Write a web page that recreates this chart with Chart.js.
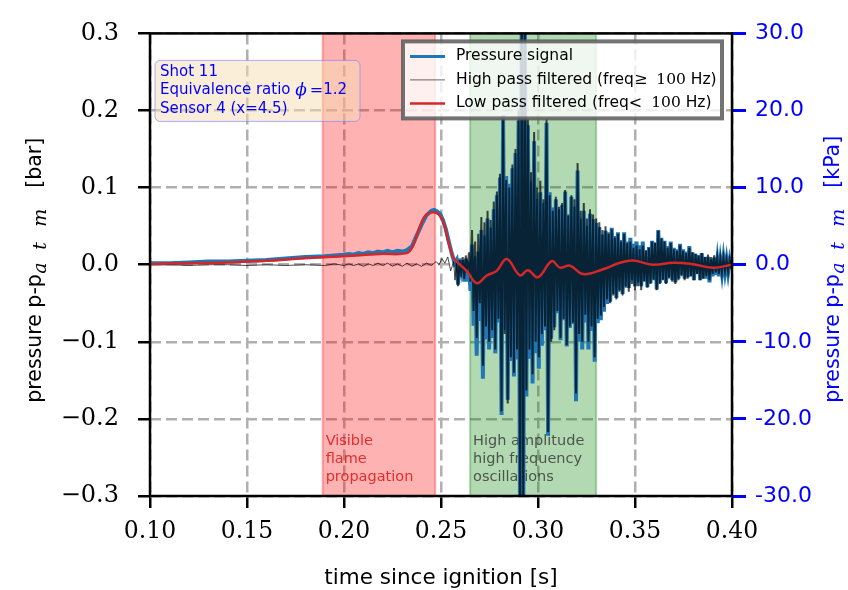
<!DOCTYPE html>
<html lang="en">
<head>
<meta charset="utf-8" />
<title>Pressure signal</title>
<script src="https://cdn.jsdelivr.net/npm/chart.js@4.4.1/dist/chart.umd.min.js"></script>
<style>
  html, body { margin: 0; padding: 0; background: #fff; }
  #wrap { width: 848px; height: 590px; }
</style>
</head>
<body>
<div id="wrap"><canvas id="myChart" width="848" height="590"></canvas></div>

<script>
// ---- data ----
// low pass filtered signal (bar)
var lowTime = [0.100, 0.120, 0.140, 0.160, 0.1773, 0.200, 0.2186, 0.2323, 0.2357, 0.2392, 0.2426, 0.2478,
  0.2512, 0.2538, 0.2564, 0.2598, 0.2632, 0.2684, 0.2736, 0.2787, 0.2839, 0.2907, 0.2948, 0.3000,
  0.3071, 0.3113, 0.3165, 0.3232, 0.3335, 0.3423, 0.3490, 0.3593, 0.3696, 0.3784, 0.3902, 0.4000];
var lowValue = [0.001, 0.002, 0.003, 0.005, 0.008, 0.011, 0.014, 0.015, 0.025, 0.050, 0.065, 0.067,
  0.055, 0.030, 0.009, 0.000, -0.008, -0.024, -0.014, -0.008, 0.0075, -0.0138, -0.0072, -0.0163,
  0.0046, -0.0038, -0.0013, -0.0122, -0.0059, 0.0025, 0.0054, 0.0000, 0.0025, 0.0013, -0.0038, 0.0000];

// raw pressure signal before the oscillations (bar)
var rawTime = [0.100, 0.110, 0.120, 0.130, 0.140, 0.150, 0.160, 0.170, 0.180, 0.190, 0.195, 0.200,
  0.2025, 0.205, 0.2075, 0.210, 0.2125, 0.215, 0.2175, 0.220, 0.2225, 0.225, 0.2275, 0.230, 0.2325,
  0.235, 0.2375, 0.240, 0.2425, 0.245, 0.2465, 0.248, 0.2495, 0.251, 0.2525, 0.254, 0.2555, 0.257];
var rawValue = [0.002, 0.002, 0.003, 0.004, 0.004, 0.005, 0.006, 0.008, 0.010, 0.011, 0.012, 0.013,
  0.014, 0.013, 0.015, 0.014, 0.016, 0.015, 0.017, 0.016, 0.018, 0.016, 0.018, 0.017, 0.019,
  0.024, 0.038, 0.052, 0.064, 0.070, 0.071, 0.069, 0.066, 0.058, 0.046, 0.030, 0.015, 0.002];

// high pass filtered signal before the oscillations (bar)
var highTime = [0.100, 0.110, 0.120, 0.130, 0.140, 0.150, 0.160, 0.170, 0.180, 0.190, 0.195, 0.200,
  0.2025, 0.205, 0.2075, 0.210, 0.2125, 0.215, 0.2175, 0.220, 0.2225, 0.225, 0.2275, 0.230, 0.2325,
  0.235, 0.2375, 0.240, 0.2425, 0.245, 0.2475, 0.249, 0.2505, 0.252, 0.2535, 0.255, 0.2565, 0.2572];
var highValue = [0.000, 0.000, -0.001, 0.000, 0.000, -0.001, 0.000, -0.001, 0.000, -0.001, 0.001, -0.001,
  0.001, -0.001, 0.001, -0.002, 0.001, -0.001, 0.002, -0.001, 0.002, -0.002, 0.001, -0.002, 0.002,
  -0.002, 0.001, -0.002, 0.002, -0.001, 0.004, 0.000, 0.008, 0.002, 0.010, -0.008, 0.004, -0.020];

// oscillation part, sampled every 0.8 ms from 0.258 s
var oscStart = 0.258;
var oscStep = 0.0008;
var oscHigh = [
  0.004, -0.028, 0.006, -0.012, 0.010, -0.018, 0.012, -0.010, 0.016, -0.022,
  0.045, -0.060, 0.030, -0.095, 0.040, -0.050, 0.062, -0.131, 0.055, -0.080,
  0.070, -0.100, 0.058, -0.085, 0.082, -0.110, 0.095, -0.070, 0.118, -0.190,
  0.189, -0.090, 0.110, -0.180, 0.100, -0.120, 0.130, -0.140, 0.150, -0.110,
  0.200, -0.360, 0.360, -0.340, 0.340, -0.163, 0.189, -0.110, 0.120, -0.142,
  0.172, -0.100, 0.100, -0.120, 0.109, -0.090, 0.085, -0.080, 0.189, -0.217,
  0.090, -0.100, 0.070, -0.085, 0.088, -0.060, 0.075, -0.095, 0.080, -0.070,
  0.097, -0.104, 0.065, -0.080, 0.090, -0.075, 0.085, -0.167, 0.132, -0.090,
  0.070, -0.100, 0.080, -0.065, 0.060, -0.100, 0.072, -0.080, 0.065, -0.120,
  0.060, -0.070, 0.055, -0.066, 0.045, -0.055, 0.050, -0.045, 0.040, -0.050,
  0.046, -0.040, 0.035, -0.045, 0.040, -0.035, 0.030, -0.040, 0.040, -0.030,
  0.028, -0.035, 0.030, -0.025, 0.022, -0.033, 0.025, -0.028, 0.020, -0.033,
  0.025, -0.022, 0.018, -0.030, 0.022, -0.025, 0.030, -0.020, 0.028, -0.033,
  0.044, -0.025, 0.034, -0.020, 0.030, -0.025, 0.022, -0.018, 0.028, -0.022,
  0.020, -0.025, 0.018, -0.020, 0.025, -0.015, 0.018, -0.020, 0.015, -0.018,
  0.022, -0.015, 0.016, -0.020, 0.014, -0.012, 0.012, -0.020, 0.015, -0.018,
  0.010, -0.015, 0.013, -0.020, 0.010, -0.012, 0.012, -0.010, 0.009, -0.012,
  0.008, -0.010, 0.009, -0.008, 0.007, -0.009, 0.006, -0.005];
var oscRaw = [
  0.006, -0.026, 0.008, -0.016, 0.006, -0.022, 0.008, -0.022, 0.004, -0.034,
  0.026, -0.079, 0.011, -0.118, 0.017, -0.073, 0.045, -0.148, 0.038, -0.097,
  0.060, -0.110, 0.048, -0.095, 0.072, -0.115, 0.090, -0.075, 0.113, -0.195,
  0.194, -0.085, 0.115, -0.175, 0.105, -0.125, 0.125, -0.145, 0.145, -0.123,
  0.187, -0.373, 0.347, -0.348, 0.332, -0.171, 0.181, -0.122, 0.108, -0.154,
  0.160, -0.115, 0.085, -0.135, 0.094, -0.105, 0.080, -0.085, 0.184, -0.222,
  0.094, -0.096, 0.074, -0.081, 0.085, -0.063, 0.072, -0.098, 0.077, -0.072,
  0.095, -0.106, 0.063, -0.082, 0.088, -0.077, 0.075, -0.177, 0.122, -0.100,
  0.060, -0.110, 0.070, -0.075, 0.050, -0.110, 0.066, -0.086, 0.059, -0.126,
  0.054, -0.076, 0.049, -0.072, 0.039, -0.061, 0.044, -0.051, 0.042, -0.048,
  0.048, -0.038, 0.037, -0.043, 0.042, -0.033, 0.032, -0.038, 0.042, -0.028,
  0.030, -0.030, 0.035, -0.020, 0.027, -0.028, 0.030, -0.023, 0.025, -0.028,
  0.030, -0.021, 0.019, -0.029, 0.023, -0.024, 0.031, -0.019, 0.029, -0.032,
  0.045, -0.024, 0.035, -0.019, 0.031, -0.024, 0.024, -0.016, 0.030, -0.020,
  0.022, -0.023, 0.020, -0.018, 0.027, -0.013, 0.020, -0.018, 0.017, -0.016,
  0.024, -0.015, 0.016, -0.020, 0.014, -0.012, 0.012, -0.020, 0.015, -0.018,
  0.010, -0.018, 0.010, -0.023, 0.007, -0.015, 0.009, -0.013, 0.006, -0.015,
  0.005, -0.011, 0.008, -0.009, 0.006, -0.010, 0.005, -0.006];

// shaded time windows
var bandStart = [0.189, 0.265];
var bandEnd = [0.247, 0.330];
var bandText = [["Visible", "flame", "propagation"], ["High amplitude", "high frequency", "oscillations"]];

// ticks
var xTicks = [0.10, 0.15, 0.20, 0.25, 0.30, 0.35, 0.40];
var xTickLabels = ["0.10", "0.15", "0.20", "0.25", "0.30", "0.35", "0.40"];
var barTicks = [-0.3, -0.2, -0.1, 0.0, 0.1, 0.2, 0.3];
var barTickLabels = ["\u22120.3", "\u22120.2", "\u22120.1", "0.0", "0.1", "0.2", "0.3"];
var kpaTicks = [-30, -20, -10, 0, 10, 20, 30];
var kpaTickLabels = ["-30.0", "-20.0", "-10.0", "0.0", "10.0", "20.0", "30.0"];

var infoLines = ["Shot 11", "Equivalence ratio", "Sensor 4 (x=4.5)"];

// ---- build series ----
var oscTime = oscHigh.map(function (_, i) { return +(oscStart + i * oscStep).toFixed(4); });

function pts(t, v) {
  return t.map(function (tt, i) { return { x: tt, y: v[i] }; });
}
var rawPts = pts(rawTime, rawValue).concat(pts(oscTime, oscRaw));
var highPts = pts(highTime, highValue).concat(pts(oscTime, oscHigh));
var lowPts = pts(lowTime, lowValue);

var SANS = '"DejaVu Sans"';
var SERIF = '"DejaVu Serif"';
var BLUE = "#1f77b4";
var RED = "#d62728";
var HP = "rgba(0,0,0,0.7)";

// text made of pieces: [text, font, dy, extra gap after]
function drawParts(ctx, parts, x, y) {
  parts.forEach(function (p) {
    ctx.font = p[1];
    ctx.fillText(p[0], x, y + (p[2] || 0));
    x += ctx.measureText(p[0]).width + (p[3] || 0);
  });
  return x;
}

var decor = {
  id: "decor",
  beforeDatasetsDraw: function (chart) {
    var ctx = chart.ctx, a = chart.chartArea, x = chart.scales.x, y = chart.scales.y;
    var fills = ["rgba(255,0,0,0.3)", "rgba(0,128,0,0.3)"];
    var txt = ["rgba(225,20,20,0.85)", "rgba(40,40,40,0.75)"];
    ctx.save();
    bandStart.forEach(function (b, i) {
      var x0 = x.getPixelForValue(b), x1 = x.getPixelForValue(bandEnd[i]);
      ctx.fillStyle = fills[i];
      ctx.fillRect(x0, a.top, x1 - x0, a.bottom - a.top);
      ctx.strokeStyle = fills[i];
      ctx.lineWidth = 2;
      ctx.beginPath();
      ctx.moveTo(x0, a.top); ctx.lineTo(x0, a.bottom);
      ctx.moveTo(x1, a.top); ctx.lineTo(x1, a.bottom);
      ctx.stroke();
      ctx.fillStyle = txt[i];
      ctx.font = "14.5px " + SANS;
      ctx.textBaseline = "top";
      bandText[i].forEach(function (line, j) {
        ctx.fillText(line, x0 + 3, y.getPixelForValue(-0.22) + j * 18);
      });
    });
    ctx.restore();
  },
  afterDatasetsDraw: function (chart) {
    var ctx = chart.ctx, a = chart.chartArea;
    ctx.save();
    // frame
    ctx.strokeStyle = "#000";
    ctx.lineWidth = 2.5;
    ctx.strokeRect(a.left, a.top, a.right - a.left, a.bottom - a.top);

    // info box
    var bx = a.left + 5, by = a.top + 27, bw = 205, bh = 61;
    ctx.beginPath();
    ctx.roundRect(bx, by, bw, bh, 5);
    ctx.fillStyle = "rgba(245,222,179,0.5)";
    ctx.fill();
    ctx.strokeStyle = "rgba(120,120,255,0.6)";
    ctx.lineWidth = 1;
    ctx.stroke();
    ctx.fillStyle = "#0000ff";
    ctx.textBaseline = "middle";
    ctx.font = "15px " + SANS;
    ctx.fillText(infoLines[0], bx + 5, by + 12);
    drawParts(ctx, [[infoLines[1] + " ", "15px " + SANS], ["\u03d5", "italic 17px " + SERIF, 0, 3], ["=", "16px " + SERIF], ["1.2", "15px " + SANS]], bx + 5, by + 30);
    ctx.font = "15px " + SANS;
    ctx.fillText(infoLines[2], bx + 5, by + 49);

    // legend
    var lx = a.right - 329, ly = a.top + 8, lw = 319, lh = 77;
    ctx.fillStyle = "rgba(255,255,255,0.8)";
    ctx.fillRect(lx, ly, lw, lh);
    ctx.strokeStyle = "rgba(90,90,90,0.85)";
    ctx.lineWidth = 4;
    ctx.strokeRect(lx, ly, lw, lh);
    var lf = "15.5px " + SANS, mf = "15.5px " + SERIF;
    var rows = [
      { color: BLUE, width: 3, parts: [[chart.data.datasets[2].label, lf]] },
      { color: "rgba(0,0,0,0.6)", width: 1, parts: [["High pass filtered (freq", lf], ["\u2265", "16px " + SERIF, 0, 9], ["100", mf], [" Hz)", lf]] },
      { color: RED, width: 2.5, parts: [["Low pass filtered (freq", lf], ["<", "16px " + SERIF, 0, 9], ["100", mf], [" Hz)", lf]] }
    ];
    rows.forEach(function (r, i) {
      var yy = ly + 15 + i * 23.5;
      ctx.strokeStyle = r.color;
      ctx.lineWidth = r.width;
      ctx.beginPath();
      ctx.moveTo(lx + 7, yy); ctx.lineTo(lx + 42, yy);
      ctx.stroke();
      ctx.fillStyle = "#000";
      ctx.textBaseline = "middle";
      drawParts(ctx, r.parts, lx + 53, yy);
    });
    ctx.restore();
  },
  afterDraw: function (chart) {
    var ctx = chart.ctx, a = chart.chartArea;
    var cy = (a.top + a.bottom) / 2;
    ctx.save();
    ctx.textBaseline = "alphabetic";
    // x title
    ctx.fillStyle = "#000";
    ctx.font = "21.5px " + SANS;
    ctx.textAlign = "center";
    ctx.fillText("time since ignition [s]", (a.left + a.right) / 2, 584);
    ctx.textAlign = "left";
    // y titles with the atm subscript, pieces placed along the rotated baseline
    function yTitle(xc, unit, color) {
      var mainF = "20.5px " + SANS, subF = "italic 19px " + SERIF;
      var pieces = [["pressure p-p", mainF, 0, 0], ["a", subF, 5, 129], ["t", subF, 5, 153], ["m", subF, 5, 176], ["[" + unit + "]", mainF, 0, 215]];
      ctx.save();
      ctx.translate(xc, cy + 138);
      ctx.rotate(-Math.PI / 2);
      ctx.fillStyle = color;
      pieces.forEach(function (p) {
        ctx.font = p[1];
        ctx.fillText(p[0], p[3], p[2]);
      });
      ctx.restore();
    }
    yTitle(41, "bar", "#000");
    yTitle(839, "kPa", "#0000ff");
    ctx.restore();
  }
};

function setTicks(values) {
  return function (scale) {
    scale.ticks = values.map(function (v) { return { value: v }; });
  };
}

var ctx = document.getElementById("myChart").getContext("2d");
var myChart = new Chart(ctx, {
  type: "line",
  data: {
    datasets: [
      { label: "Low pass filtered (freq< 100 Hz)", data: lowPts, borderColor: RED, borderWidth: 2.5, tension: 0.4, order: 0, yAxisID: "y", clip: 0 },
      {
        label: "High pass filtered (freq\u2265 100 Hz)", data: highPts, borderColor: HP, borderWidth: 1, tension: 0, order: 1, yAxisID: "y", clip: 0,
        segment: { borderWidth: function (c) { return c.p0.parsed.x >= oscStart ? 2 : 1; } }
      },
      { label: "Pressure signal", data: rawPts, borderColor: BLUE, borderWidth: 4, tension: 0, order: 2, yAxisID: "y", clip: 0 }
    ]
  },
  options: {
    responsive: false,
    animation: false,
    elements: { point: { radius: 0 } },
    layout: { padding: { top: 18, left: 0, right: 0, bottom: 0 } },
    plugins: { legend: { display: false }, tooltip: { enabled: false } },
    scales: {
      x: {
        type: "linear",
        min: 0.1,
        max: 0.4,
        afterBuildTicks: setTicks(xTicks),
        afterFit: function (s) { s.height = 94; },
        grid: { color: "#b0b0b0", lineWidth: 2.5, tickColor: "#000", tickWidth: 2.5, tickLength: 12, tickBorderDash: [] },
        border: { display: false, dash: [11, 5] },
        ticks: {
          autoSkip: false, maxRotation: 0, padding: 10, color: "#000",
          font: { family: "DejaVu Serif", size: 23.5 },
          callback: function (v, i) { return xTickLabels[i]; }
        }
      },
      y: {
        position: "left",
        min: -0.3,
        max: 0.3,
        afterBuildTicks: setTicks(barTicks),
        afterFit: function (s) { s.width = 150; },
        grid: { color: "#b0b0b0", lineWidth: 2.5, tickColor: "#000", tickWidth: 2.5, tickLength: 12, tickBorderDash: [] },
        border: { display: false, dash: [11, 5] },
        ticks: {
          autoSkip: false, padding: 19, color: "#000",
          font: { family: "DejaVu Serif", size: 24 },
          callback: function (v, i) { return barTickLabels[i]; }
        }
      },
      y2: {
        position: "right",
        min: -30,
        max: 30,
        afterBuildTicks: setTicks(kpaTicks),
        afterFit: function (s) { s.width = 116; },
        grid: { drawOnChartArea: false, color: "#0000ff", lineWidth: 3, tickColor: "#0000ff", tickWidth: 3, tickLength: 14, tickBorderDash: [] },
        border: { display: false },
        ticks: {
          autoSkip: false, padding: 9, color: "#0000ff",
          font: { family: "DejaVu Sans", size: 22 },
          callback: function (v, i) { return kpaTickLabels[i]; }
        }
      }
    }
  },
  plugins: [decor]
});
</script>
</body>
</html>
